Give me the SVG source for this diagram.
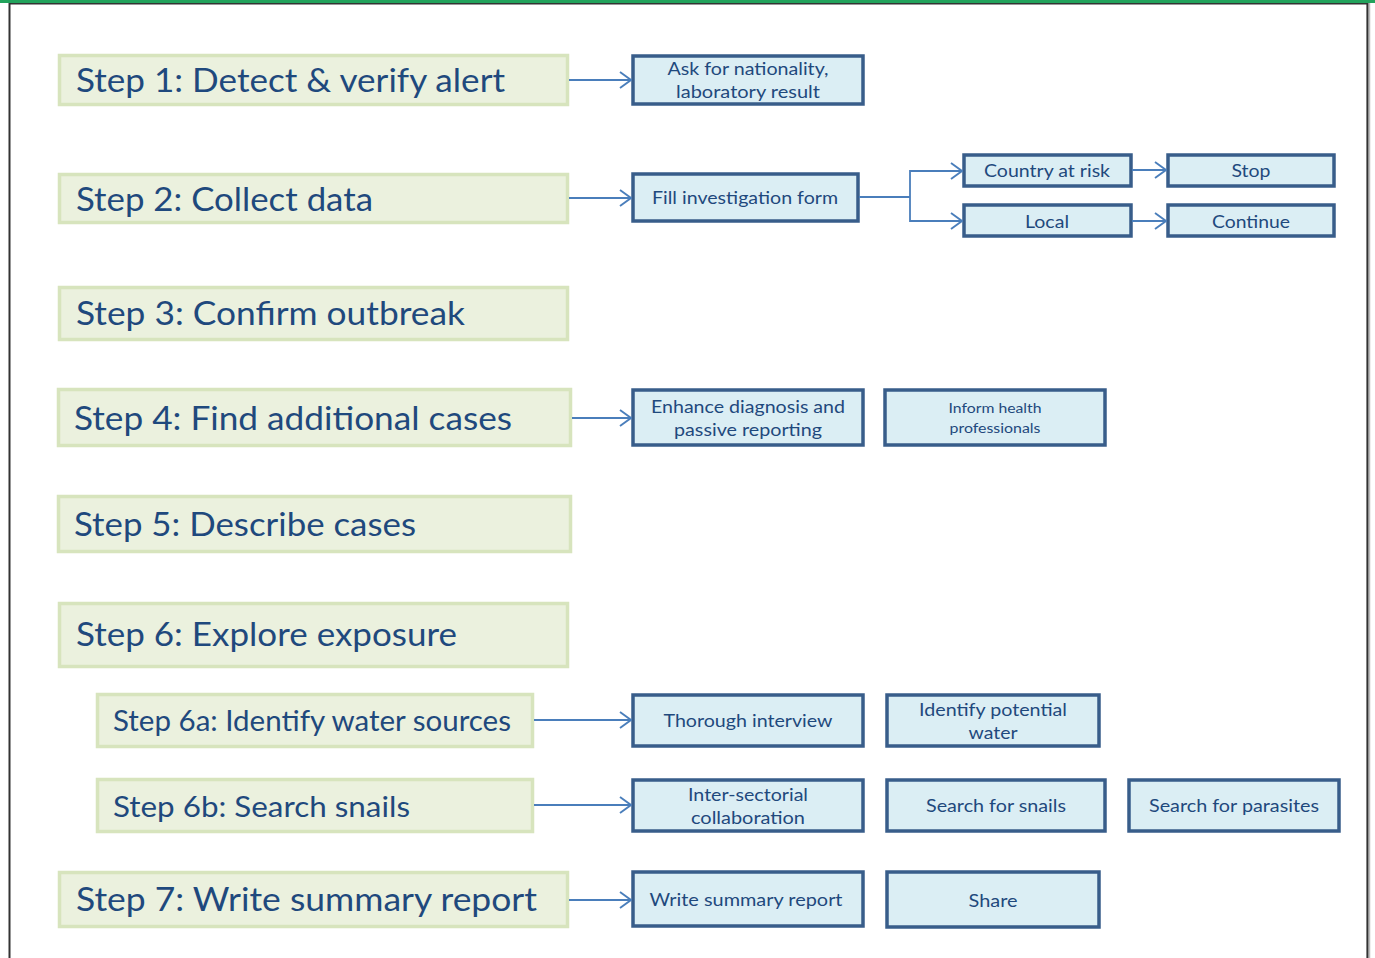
<svg xmlns="http://www.w3.org/2000/svg" width="1375" height="958" viewBox="0 0 1375 958">
  <defs>
    <marker id="chev" viewBox="0 0 13 18" refX="12" refY="9" markerWidth="13" markerHeight="18" markerUnits="userSpaceOnUse" orient="auto">
      <path d="M1,1 L12,9 L1,17" fill="none" stroke="#4a7ebb" stroke-width="1.9"/>
    </marker>
    <style>
      .step rect { fill: #ebf1de; stroke: #d7e4bd; stroke-width: 3.5; }
      .step text { font-family: Lato, "Liberation Sans", sans-serif; fill: #1f497d; }
      .box rect { fill: #dbeef4; stroke: #385d8a; stroke-width: 3.5; }
      .box text { font-family: Lato, "Liberation Sans", sans-serif; fill: #1f497d; font-size: 17px; text-anchor: middle; }
      .box text.small { font-size: 13.5px; }
      .link { fill: none; stroke: #4a7ebb; stroke-width: 1.8; }
      .arrow { marker-end: url(#chev); }
    </style>
  </defs>

  <!-- page frame -->
  <rect x="0" y="0" width="1375" height="958" fill="#ffffff"/>
  <rect x="0" y="0" width="1375" height="3" fill="#22a35c"/>
  <line x1="9" y1="3.8" x2="1368" y2="3.8" stroke="#333333" stroke-width="1.6"/>
  <line x1="9.5" y1="3" x2="9.5" y2="958" stroke="#333333" stroke-width="2"/>
  <line x1="1367.5" y1="3" x2="1367.5" y2="958" stroke="#333333" stroke-width="2.2"/>
  <line x1="1369.5" y1="3" x2="1369.5" y2="958" stroke="#bbbbbb" stroke-width="1.5"/>

  <!-- main steps -->
  <g id="step1" class="step">
    <rect x="59.5" y="55.5" width="508" height="49"/>
    <text x="76" y="92" font-size="32" textLength="429" lengthAdjust="spacingAndGlyphs">Step 1: Detect &amp; verify alert</text>
  </g>
  <g id="step2" class="step">
    <rect x="59.5" y="174.5" width="508" height="48"/>
    <text x="76" y="211" font-size="32" textLength="297" lengthAdjust="spacingAndGlyphs">Step 2: Collect data</text>
  </g>
  <g id="step3" class="step">
    <rect x="59.5" y="287.5" width="508" height="52"/>
    <text x="76" y="325" font-size="32" textLength="389" lengthAdjust="spacingAndGlyphs">Step 3: Confirm outbreak</text>
  </g>
  <g id="step4" class="step">
    <rect x="58.5" y="389.5" width="512" height="56"/>
    <text x="74" y="430" font-size="33" textLength="438" lengthAdjust="spacingAndGlyphs">Step 4: Find additional cases</text>
  </g>
  <g id="step5" class="step">
    <rect x="58.5" y="496.5" width="512" height="55"/>
    <text x="74" y="536" font-size="33" textLength="342" lengthAdjust="spacingAndGlyphs">Step 5: Describe cases</text>
  </g>
  <g id="step6" class="step">
    <rect x="59.5" y="603.5" width="508" height="63"/>
    <text x="76" y="646" font-size="32" textLength="381" lengthAdjust="spacingAndGlyphs">Step 6: Explore exposure</text>
  </g>
  <g id="step6a" class="step">
    <rect x="97.5" y="694.5" width="435" height="52"/>
    <text x="113" y="731" font-size="29" textLength="398" lengthAdjust="spacingAndGlyphs">Step 6a: Identify water sources</text>
  </g>
  <g id="step6b" class="step">
    <rect x="97.5" y="779.5" width="435" height="52"/>
    <text x="113" y="817" font-size="29" textLength="297" lengthAdjust="spacingAndGlyphs">Step 6b: Search snails</text>
  </g>
  <g id="step7" class="step">
    <rect x="59.5" y="872.5" width="508" height="54"/>
    <text x="76" y="911" font-size="32" textLength="461" lengthAdjust="spacingAndGlyphs">Step 7: Write summary report</text>
  </g>

  <!-- action boxes -->
  <g id="ask" class="box">
    <rect x="633" y="56" width="230" height="48"/>
    <text x="748" y="75" textLength="161" lengthAdjust="spacingAndGlyphs">Ask for nationality,</text>
    <text x="748" y="98" textLength="144" lengthAdjust="spacingAndGlyphs">laboratory result</text>
  </g>
  <g id="fill-form" class="box">
    <rect x="633" y="174" width="225" height="47"/>
    <text x="745" y="204" textLength="186" lengthAdjust="spacingAndGlyphs">Fill investigation form</text>
  </g>
  <g id="country" class="box">
    <rect x="964" y="155" width="167" height="31"/>
    <text x="1047" y="177" textLength="126" lengthAdjust="spacingAndGlyphs">Country at risk</text>
  </g>
  <g id="stop" class="box">
    <rect x="1168" y="155" width="166" height="31"/>
    <text x="1251" y="177" textLength="39" lengthAdjust="spacingAndGlyphs">Stop</text>
  </g>
  <g id="local" class="box">
    <rect x="964" y="205" width="167" height="31"/>
    <text x="1047" y="228" textLength="44" lengthAdjust="spacingAndGlyphs">Local</text>
  </g>
  <g id="continue" class="box">
    <rect x="1168" y="205" width="166" height="31"/>
    <text x="1251" y="228" textLength="78" lengthAdjust="spacingAndGlyphs">Continue</text>
  </g>
  <g id="enhance" class="box">
    <rect x="633" y="390" width="230" height="55"/>
    <text x="748" y="413" textLength="194" lengthAdjust="spacingAndGlyphs">Enhance diagnosis and</text>
    <text x="748" y="436" textLength="148" lengthAdjust="spacingAndGlyphs">passive reporting</text>
  </g>
  <g id="inform" class="box">
    <rect x="885" y="390" width="220" height="55"/>
    <text class="small" x="995" y="413" textLength="93" lengthAdjust="spacingAndGlyphs">Inform health</text>
    <text class="small" x="995" y="433" textLength="91" lengthAdjust="spacingAndGlyphs">professionals</text>
  </g>
  <g id="interview" class="box">
    <rect x="633" y="695" width="230" height="51"/>
    <text x="748" y="727" textLength="169" lengthAdjust="spacingAndGlyphs">Thorough interview</text>
  </g>
  <g id="identify-water" class="box">
    <rect x="887" y="695" width="212" height="51"/>
    <text x="993" y="716" textLength="148" lengthAdjust="spacingAndGlyphs">Identify potential</text>
    <text x="993" y="739" textLength="49" lengthAdjust="spacingAndGlyphs">water</text>
  </g>
  <g id="intersectorial" class="box">
    <rect x="633" y="780" width="230" height="51"/>
    <text x="748" y="801" textLength="120" lengthAdjust="spacingAndGlyphs">Inter-sectorial</text>
    <text x="748" y="824" textLength="114" lengthAdjust="spacingAndGlyphs">collaboration</text>
  </g>
  <g id="search-snails" class="box">
    <rect x="887" y="780" width="218" height="51"/>
    <text x="996" y="812" textLength="140" lengthAdjust="spacingAndGlyphs">Search for snails</text>
  </g>
  <g id="search-parasites" class="box">
    <rect x="1129" y="780" width="210" height="51"/>
    <text x="1234" y="812" textLength="170" lengthAdjust="spacingAndGlyphs">Search for parasites</text>
  </g>
  <g id="write-report" class="box">
    <rect x="633" y="872" width="230" height="54"/>
    <text x="746" y="906" textLength="193" lengthAdjust="spacingAndGlyphs">Write summary report</text>
  </g>
  <g id="share" class="box">
    <rect x="887" y="872" width="212" height="55"/>
    <text x="993" y="907" textLength="49" lengthAdjust="spacingAndGlyphs">Share</text>
  </g>

  <!-- connectors -->
  <g id="connectors">
    <line class="link arrow" x1="569" y1="80" x2="631" y2="80"/>
    <line class="link arrow" x1="569" y1="198" x2="631" y2="198"/>
    <polyline class="link" points="859,197 910,197"/>
    <polyline class="link arrow" points="910,197 910,171 962,171"/>
    <polyline class="link arrow" points="910,197 910,221 962,221"/>
    <line class="link arrow" x1="1132" y1="170" x2="1166" y2="170"/>
    <line class="link arrow" x1="1132" y1="221" x2="1166" y2="221"/>
    <line class="link arrow" x1="572" y1="418" x2="631" y2="418"/>
    <line class="link arrow" x1="534" y1="720" x2="631" y2="720"/>
    <line class="link arrow" x1="534" y1="805" x2="631" y2="805"/>
    <line class="link arrow" x1="569" y1="900" x2="631" y2="900"/>
  </g>
</svg>
